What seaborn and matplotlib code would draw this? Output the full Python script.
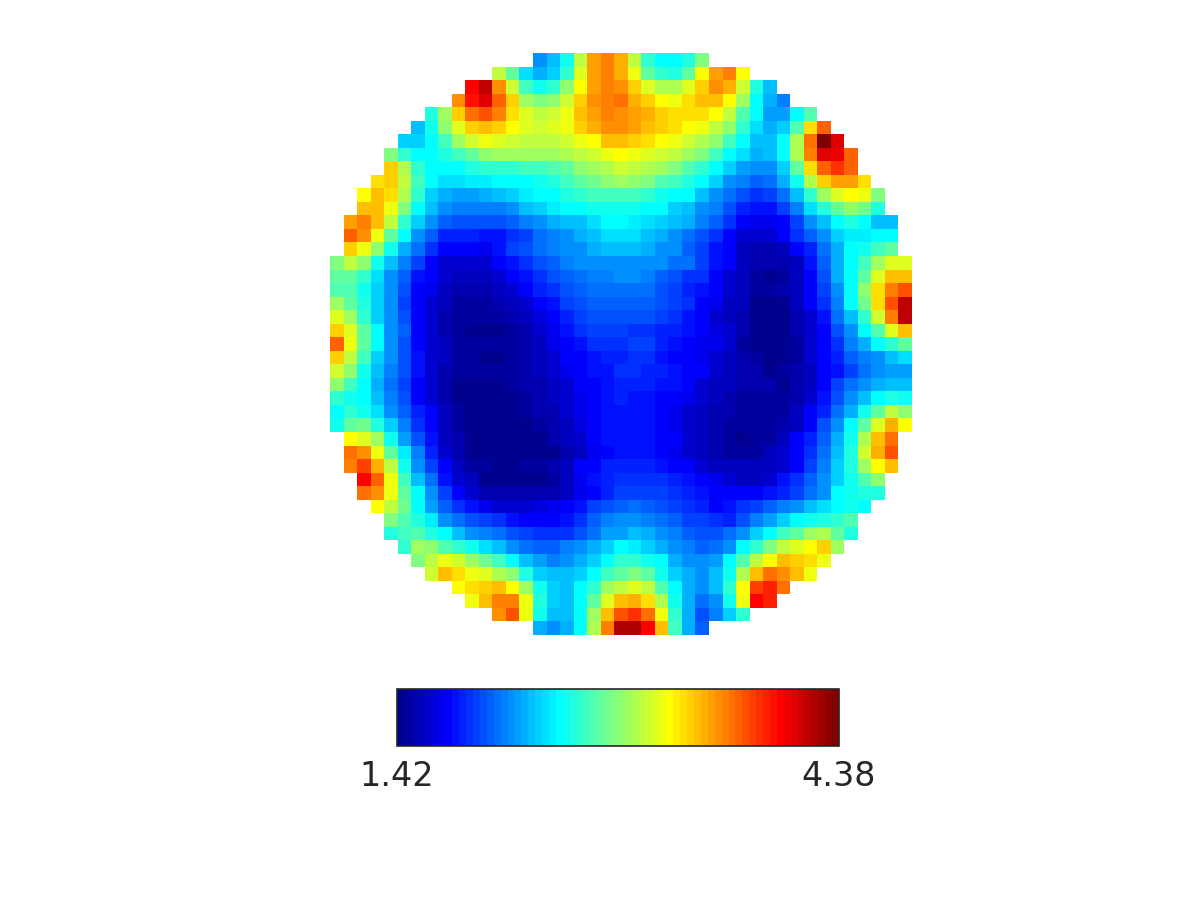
#!/usr/bin/env python
import numpy as np
import matplotlib
matplotlib.use("Agg")
import matplotlib.pyplot as plt
from matplotlib.colors import ListedColormap
import seaborn as sns

# values, row by row, top to bottom (only cells inside the disc)
row_00 = [2.16,2.31,2.57,3.06,3.53,3.62,3.48,3.06,2.66,2.49,2.49,2.6,2.88]
row_01 = [3.06,2.8,2.4,2.28,2.36,2.66,3.16,3.53,3.62,3.48,3.2,2.8,2.66,2.6,2.8,3.25,3.53,3.62,3.25]
row_02 = [3.99,4.15,3.57,3.09,2.7,2.57,2.66,2.92,3.25,3.53,3.62,3.57,3.37,3.14,3.02,3.02,3.16,3.37,3.55,3.5,3.11,2.6,2.31]
row_03 = [3.57,3.95,4.06,3.71,3.37,2.97,2.88,2.92,3.11,3.39,3.57,3.62,3.65,3.5,3.37,3.25,3.2,3.34,3.43,3.43,3.25,2.97,2.52,2.28,2.12]
row_04 = [2.6,2.95,3.39,3.67,3.75,3.6,3.34,3.14,3.05,3.09,3.2,3.42,3.53,3.63,3.58,3.53,3.46,3.37,3.33,3.33,3.33,3.25,3.06,2.75,2.49,2.22,2.22,2.49,2.75]
row_05 = [2.31,2.57,2.9,3.16,3.39,3.45,3.39,3.25,3.14,3.09,3.14,3.22,3.37,3.48,3.55,3.55,3.52,3.43,3.37,3.34,3.25,3.2,3.06,2.92,2.66,2.4,2.28,2.38,2.75,3.36,3.71]
row_06 = [2.36,2.36,2.52,2.7,2.95,3.09,3.18,3.14,3.09,3.04,3.04,3.04,3.09,3.2,3.25,3.41,3.41,3.39,3.34,3.25,3.2,3.11,3.02,2.92,2.7,2.52,2.33,2.33,2.49,3.0,3.67,4.38,4.08]
row_07 = [2.88,2.66,2.49,2.53,2.6,2.7,2.8,2.9,2.95,2.97,2.97,2.97,2.97,3.0,3.06,3.11,3.2,3.25,3.18,3.16,3.11,3.06,2.97,2.88,2.7,2.53,2.4,2.28,2.31,2.49,3.0,3.6,4.08,4.04,3.71]
row_08 = [3.37,3.02,2.66,2.52,2.49,2.52,2.6,2.66,2.66,2.66,2.7,2.7,2.75,2.8,2.92,2.97,3.02,3.09,3.06,3.02,2.97,2.88,2.75,2.66,2.52,2.38,2.22,2.16,2.2,2.38,2.8,3.34,3.71,3.85,3.71]
row_09 = [3.32,3.37,3.06,2.7,2.49,2.4,2.4,2.44,2.44,2.49,2.49,2.52,2.57,2.62,2.7,2.8,2.85,2.9,2.95,2.9,2.88,2.75,2.7,2.6,2.49,2.38,2.2,2.12,2.04,2.08,2.28,2.57,3.0,3.39,3.53,3.53,3.32]
row_10 = [3.25,3.43,3.34,3.02,2.66,2.36,2.28,2.24,2.24,2.29,2.31,2.38,2.44,2.49,2.52,2.6,2.66,2.7,2.7,2.7,2.7,2.66,2.57,2.52,2.49,2.31,2.2,2.08,2.0,1.9,1.95,2.08,2.33,2.66,2.97,3.16,3.25,3.18,2.88]
row_11 = [3.43,3.41,3.2,2.88,2.52,2.31,2.16,2.12,2.12,2.12,2.12,2.2,2.31,2.36,2.44,2.49,2.52,2.57,2.57,2.57,2.57,2.52,2.49,2.38,2.31,2.2,2.12,2.0,1.85,1.8,1.8,1.95,2.12,2.4,2.6,2.8,2.9,2.85,2.6]
row_12 = [3.53,3.62,3.41,3.06,2.66,2.36,2.16,2.04,2.0,2.0,2.0,2.0,2.04,2.12,2.16,2.28,2.31,2.33,2.4,2.49,2.49,2.47,2.4,2.38,2.33,2.28,2.12,2.04,1.9,1.75,1.7,1.7,1.75,1.95,2.16,2.33,2.49,2.6,2.49,2.31,2.31]
row_13 = [3.71,3.57,3.2,2.8,2.49,2.2,2.04,1.86,1.86,1.86,1.83,1.81,1.9,1.95,2.08,2.12,2.2,2.28,2.31,2.4,2.4,2.4,2.33,2.29,2.2,2.08,2.0,1.9,1.75,1.62,1.62,1.62,1.75,1.9,2.04,2.2,2.38,2.44,2.44,2.49,2.49]
row_14 = [3.37,3.2,2.9,2.57,2.29,2.08,1.9,1.77,1.77,1.77,1.72,1.81,1.95,2.0,2.08,2.12,2.16,2.2,2.28,2.31,2.33,2.33,2.28,2.2,2.16,2.04,1.95,1.81,1.75,1.58,1.54,1.54,1.56,1.75,1.86,2.08,2.28,2.49,2.57,2.7,2.8]
row_15 = [2.88,3.04,2.9,2.57,2.33,2.12,1.95,1.75,1.64,1.64,1.64,1.64,1.75,1.81,1.9,2.0,2.04,2.12,2.16,2.16,2.2,2.2,2.2,2.16,2.16,2.08,2.08,1.95,1.81,1.75,1.6,1.52,1.52,1.54,1.58,1.81,2.04,2.28,2.49,2.7,2.97,3.16,3.16]
row_16 = [2.8,2.8,2.66,2.4,2.18,2.04,1.81,1.75,1.62,1.58,1.6,1.6,1.64,1.75,1.81,1.9,2.0,2.04,2.08,2.12,2.12,2.16,2.16,2.12,2.04,2.0,1.9,1.9,1.75,1.65,1.58,1.5,1.46,1.5,1.6,1.75,2.0,2.28,2.52,2.8,3.16,3.43,3.41]
row_17 = [2.75,2.75,2.57,2.38,2.16,2.0,1.75,1.7,1.6,1.54,1.54,1.55,1.58,1.65,1.75,1.86,1.9,2.0,2.04,2.08,2.08,2.08,2.08,2.08,2.0,1.95,1.86,1.81,1.75,1.65,1.56,1.48,1.48,1.52,1.6,1.75,1.95,2.2,2.49,2.9,3.32,3.62,3.76]
row_18 = [2.95,2.8,2.6,2.36,2.16,1.95,1.75,1.65,1.58,1.5,1.5,1.5,1.54,1.56,1.65,1.77,1.81,1.95,2.0,2.04,2.04,2.04,2.04,2.04,2.0,1.95,1.9,1.75,1.7,1.6,1.56,1.46,1.45,1.46,1.56,1.75,1.9,2.12,2.49,2.85,3.32,3.76,4.18]
row_19 = [3.14,2.97,2.66,2.36,2.16,2.0,1.75,1.65,1.55,1.5,1.48,1.48,1.5,1.54,1.6,1.67,1.75,1.86,1.95,2.0,2.0,2.0,2.0,2.0,1.95,1.9,1.81,1.75,1.65,1.6,1.54,1.45,1.45,1.45,1.52,1.65,1.81,2.08,2.31,2.66,3.09,3.62,4.15]
row_20 = [3.39,3.14,2.8,2.49,2.16,2.04,1.75,1.65,1.54,1.48,1.46,1.45,1.46,1.5,1.55,1.62,1.7,1.81,1.9,1.95,1.95,1.95,1.9,1.9,1.86,1.86,1.81,1.75,1.68,1.62,1.52,1.45,1.45,1.45,1.52,1.62,1.75,2.0,2.16,2.49,2.75,3.16,3.45]
row_21 = [3.7,3.2,2.8,2.49,2.16,2.0,1.75,1.65,1.56,1.5,1.48,1.48,1.48,1.5,1.54,1.58,1.7,1.75,1.81,1.9,1.9,1.9,1.95,1.95,1.86,1.81,1.75,1.7,1.7,1.62,1.47,1.44,1.44,1.44,1.48,1.62,1.75,1.9,2.12,2.28,2.49,2.66,2.8]
row_22 = [3.37,3.06,2.7,2.38,2.18,2.0,1.81,1.65,1.56,1.5,1.5,1.45,1.45,1.5,1.55,1.6,1.64,1.75,1.75,1.81,1.86,1.86,1.9,1.9,1.81,1.75,1.75,1.7,1.65,1.56,1.52,1.5,1.44,1.45,1.5,1.62,1.75,1.86,2.04,2.12,2.2,2.31,2.4]
row_23 = [3.1,2.9,2.57,2.33,2.12,2.0,1.81,1.62,1.55,1.48,1.48,1.48,1.48,1.5,1.54,1.58,1.65,1.72,1.77,1.81,1.81,1.9,1.9,1.86,1.86,1.81,1.75,1.75,1.65,1.56,1.52,1.52,1.44,1.48,1.52,1.6,1.75,1.81,1.95,2.08,2.16,2.24,2.24]
row_24 = [2.9,2.7,2.49,2.28,2.08,1.95,1.75,1.65,1.55,1.46,1.44,1.44,1.44,1.48,1.52,1.55,1.6,1.65,1.77,1.77,1.81,1.86,1.86,1.86,1.81,1.81,1.75,1.65,1.6,1.56,1.52,1.52,1.52,1.46,1.52,1.6,1.75,1.95,2.08,2.16,2.29,2.33,2.33]
row_25 = [2.66,2.57,2.49,2.31,2.12,2.0,1.75,1.65,1.54,1.46,1.44,1.44,1.44,1.46,1.5,1.54,1.58,1.62,1.72,1.77,1.81,1.86,1.81,1.81,1.75,1.75,1.7,1.62,1.58,1.52,1.5,1.5,1.5,1.48,1.52,1.65,1.81,2.0,2.16,2.33,2.52,2.6,2.57]
row_26 = [2.52,2.66,2.57,2.4,2.18,2.04,1.86,1.75,1.56,1.48,1.44,1.44,1.44,1.44,1.48,1.52,1.55,1.62,1.72,1.77,1.81,1.81,1.81,1.81,1.75,1.7,1.62,1.58,1.54,1.52,1.48,1.48,1.48,1.5,1.56,1.75,1.86,2.08,2.29,2.57,2.8,3.05,2.92]
row_27 = [2.57,2.8,2.85,2.6,2.36,2.12,1.9,1.75,1.58,1.5,1.45,1.44,1.44,1.44,1.44,1.5,1.54,1.6,1.67,1.75,1.81,1.81,1.81,1.81,1.75,1.7,1.62,1.58,1.52,1.5,1.5,1.5,1.5,1.52,1.58,1.75,2.0,2.2,2.49,2.8,3.16,3.48,3.25]
row_28 = [3.25,3.16,2.95,2.57,2.24,2.0,1.81,1.6,1.52,1.44,1.44,1.44,1.44,1.44,1.46,1.52,1.58,1.65,1.75,1.81,1.81,1.81,1.81,1.75,1.75,1.62,1.58,1.52,1.5,1.46,1.5,1.48,1.56,1.75,1.86,2.04,2.28,2.57,3.0,3.43,3.67]
row_29 = [3.67,3.57,3.2,2.8,2.44,2.12,1.86,1.65,1.52,1.46,1.44,1.44,1.44,1.44,1.44,1.46,1.54,1.6,1.7,1.75,1.81,1.81,1.81,1.75,1.7,1.62,1.56,1.52,1.5,1.5,1.5,1.56,1.65,1.75,1.9,2.08,2.31,2.6,3.09,3.5,3.76]
row_30 = [3.62,3.8,3.5,3.06,2.57,2.2,1.95,1.75,1.6,1.5,1.48,1.44,1.44,1.48,1.5,1.52,1.58,1.75,1.75,1.86,1.86,1.86,1.86,1.81,1.75,1.75,1.65,1.6,1.56,1.56,1.56,1.56,1.62,1.75,1.95,2.12,2.38,2.6,2.97,3.25,3.41]
row_31 = [3.99,3.71,3.2,2.7,2.31,2.08,1.81,1.65,1.58,1.46,1.44,1.44,1.44,1.46,1.5,1.58,1.7,1.81,1.86,1.9,1.9,1.9,1.9,1.86,1.81,1.75,1.7,1.62,1.6,1.6,1.65,1.81,1.9,2.04,2.16,2.38,2.57,2.75,2.9]
row_32 = [3.67,3.57,3.2,2.8,2.49,2.16,1.95,1.75,1.65,1.55,1.54,1.54,1.54,1.54,1.54,1.56,1.7,1.75,1.86,1.95,1.95,1.95,1.95,1.9,1.86,1.81,1.75,1.75,1.75,1.75,1.81,1.86,1.95,2.08,2.2,2.49,2.57,2.6,2.6]
row_33 = [3.25,3.06,2.85,2.52,2.24,2.04,1.9,1.81,1.7,1.65,1.65,1.65,1.67,1.7,1.75,1.81,1.95,2.0,2.04,2.08,2.04,2.0,1.95,1.9,1.86,1.75,1.81,1.9,1.95,2.04,2.12,2.2,2.31,2.42,2.52,2.57,2.52]
row_34 = [2.88,2.75,2.6,2.44,2.18,2.08,2.0,1.95,1.9,1.81,1.75,1.75,1.75,1.81,1.9,2.04,2.12,2.16,2.16,2.12,2.08,2.04,1.95,1.95,1.9,1.88,2.0,2.12,2.24,2.36,2.49,2.57,2.6,2.66,2.75]
row_35 = [2.6,2.7,2.75,2.6,2.49,2.33,2.18,2.14,2.08,2.0,1.95,1.9,1.9,1.9,2.0,2.08,2.24,2.24,2.31,2.28,2.16,2.12,2.04,2.0,2.0,2.08,2.2,2.38,2.52,2.7,2.8,2.95,3.0,2.8,2.6]
row_36 = [2.66,2.95,2.9,2.75,2.66,2.57,2.42,2.31,2.18,2.08,2.04,2.06,2.12,2.16,2.29,2.36,2.49,2.44,2.38,2.28,2.18,2.12,2.04,2.08,2.2,2.49,2.66,2.88,3.04,3.16,3.25,3.39,2.97]
row_37 = [2.88,3.04,3.18,3.09,2.97,2.85,2.7,2.52,2.31,2.24,2.14,2.16,2.28,2.36,2.52,2.66,2.66,2.57,2.49,2.29,2.2,2.16,2.24,2.49,2.75,3.06,3.25,3.41,3.37,3.34,3.2]
row_38 = [3.09,3.45,3.32,3.2,3.16,3.02,2.9,2.6,2.38,2.31,2.31,2.36,2.49,2.7,2.8,2.88,2.8,2.57,2.36,2.28,2.2,2.31,2.57,3.02,3.45,3.65,3.57,3.41,3.18]
row_39 = [3.25,3.34,3.37,3.43,3.25,2.97,2.57,2.36,2.31,2.49,2.66,2.95,3.06,3.16,3.04,2.75,2.49,2.28,2.16,2.31,2.66,3.25,3.8,3.9,3.67]
row_40 = [3.2,3.41,3.62,3.62,3.18,2.6,2.36,2.33,2.52,2.8,3.16,3.43,3.48,3.34,3.0,2.57,2.28,2.08,2.2,2.57,3.18,3.99,3.9]
row_41 = [3.57,3.76,3.2,2.57,2.31,2.31,2.52,2.95,3.41,3.76,3.85,3.67,3.2,2.66,2.28,2.0,2.12,2.36,2.66]
row_42 = [2.28,2.16,2.28,2.52,3.02,3.62,4.22,4.22,3.99,3.45,2.7,2.28,2.04]

rows = [row_00, row_01, row_02, row_03, row_04, row_05, row_06, row_07, row_08, row_09,
        row_10, row_11, row_12, row_13, row_14, row_15, row_16, row_17, row_18, row_19,
        row_20, row_21, row_22, row_23, row_24, row_25, row_26, row_27, row_28, row_29,
        row_30, row_31, row_32, row_33, row_34, row_35, row_36, row_37, row_38, row_39,
        row_40, row_41, row_42]
vmin = 1.42
vmax = 4.38

# rows are centred on the disc, the corners stay empty
n = len(rows)
grid = np.full((n, n), np.nan)
for i, r in enumerate(rows):
    assert len(r) == len(rows[n - 1 - i]), i
    assert len(r) % 2 == 1, i
    pad = (n - len(r)) // 2
    grid[i, pad:pad + len(r)] = r

# the 64 step jet of the reference bar (blue .125, cyan .375, yellow .625, red .875)
x = np.arange(1, 65) / 64
jet64 = ListedColormap(np.clip(np.column_stack([
    np.minimum(4 * x - 1.5, 4.5 - 4 * x),
    np.minimum(4 * x - 0.5, 3.5 - 4 * x),
    np.minimum(4 * x + 0.5, 2.5 - 4 * x)]), 0, 1))

sns.set_style("white")
fig = plt.figure(figsize=(12, 9), dpi=100)
ax = fig.add_axes([330 / 1200, 1 - 635 / 900, 582 / 1200, 582 / 900])
cax = fig.add_axes([397 / 1200, 1 - 746 / 900, 442 / 1200, 57 / 900])

sns.heatmap(grid, cmap=jet64, vmin=vmin, vmax=vmax, ax=ax, cbar_ax=cax,
            cbar_kws={"orientation": "horizontal", "ticks": [vmin, vmax]},
            xticklabels=False, yticklabels=False, square=True)
ax.axis("off")

cb = ax.collections[0].colorbar
cb.outline.set_visible(True)
cb.outline.set_linewidth(1.2)
cb.outline.set_edgecolor("#262626")
cb.set_ticklabels(["1.42", "4.38"])
cax.tick_params(axis="x", length=0, labelsize=24, pad=10, colors="#262626")

fig.savefig("out.png", dpi=100)
